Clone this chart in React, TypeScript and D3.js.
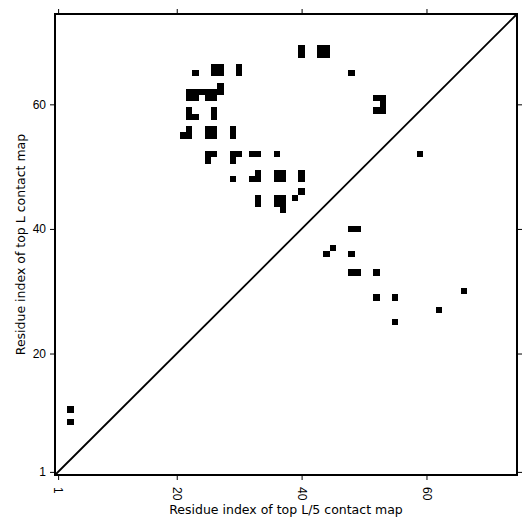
import React, { useRef, useEffect } from 'react';
import * as d3 from 'd3';

// protein length (residues)
const seqLength = 74;

// top L predicted contacts, residue pairs [i, j] with i < j (drawn above the diagonal)
const topLContacts: [number, number][] = [
  [3, 9], [3, 11],
  [23, 65], [26, 65], [26, 66], [27, 65], [27, 66], [30, 65], [30, 66],
  [27, 63], [22, 62], [23, 62], [24, 62], [25, 62], [26, 62], [27, 62],
  [22, 61], [23, 61], [25, 61], [26, 61],
  [22, 59], [22, 58], [23, 58], [26, 59], [26, 58],
  [21, 55], [22, 55], [22, 56], [25, 55], [25, 56], [26, 55], [26, 56], [29, 55], [29, 56],
  [25, 52], [26, 52], [25, 51], [29, 52], [30, 52], [29, 51], [32, 52], [33, 52], [36, 52],
  [29, 48], [32, 48], [33, 48], [33, 49], [36, 48], [36, 49], [37, 48], [37, 49], [40, 48], [40, 49],
  [33, 45], [33, 44], [36, 45], [36, 44], [37, 45], [37, 44], [37, 43], [39, 45], [40, 46],
  [40, 68], [40, 69], [43, 68], [43, 69], [44, 68], [44, 69], [48, 65],
  [52, 61], [53, 61], [53, 60], [52, 59], [53, 59],
];

// top L/5 predicted contacts, residue pairs [i, j] with i < j (drawn below the diagonal)
const topL5Contacts: [number, number][] = [
  [52, 59], [40, 48], [40, 49], [37, 45], [36, 44], [36, 48],
  [33, 48], [33, 49], [33, 52], [29, 52], [29, 55], [30, 66], [27, 62], [25, 55],
];

const tickValues = [1, 20, 40, 60];

const ContactMap = () => {
  const svgRef = useRef<SVGSVGElement>(null);

  useEffect(() => {
    const width = 531;
    const height = 531;
    const margin = { top: 14, right: 14, bottom: 56, left: 55 };

    const svg = d3.select(svgRef.current);
    svg.selectAll("*").remove();
    svg.attr("width", width).attr("height", height)
      .style("font-family", "'DejaVu Sans', sans-serif");

    const x = d3.scaleLinear()
      .domain([0.5, seqLength + 0.5])
      .range([margin.left, width - margin.right]);
    const y = d3.scaleLinear()
      .domain([0.5, seqLength + 0.5])
      .range([height - margin.bottom, margin.top]);

    const cells = [
      ...topLContacts.map(([i, j]) => ({ cx: i, cy: j })),
      ...topL5Contacts.map(([i, j]) => ({ cx: j, cy: i })),
    ];

    svg.append("g")
      .selectAll("rect")
      .data(cells)
      .join("rect")
      .attr("x", d => x(d.cx - 0.5))
      .attr("y", d => y(d.cy + 0.5))
      .attr("width", d => x(d.cx + 0.5) - x(d.cx - 0.5))
      .attr("height", d => y(d.cy - 0.5) - y(d.cy + 0.5))
      .attr("fill", "black")
      .attr("shape-rendering", "crispEdges");

    // diagonal
    svg.append("line")
      .attr("x1", x(0.5)).attr("y1", y(0.5))
      .attr("x2", x(seqLength + 0.5)).attr("y2", y(seqLength + 0.5))
      .attr("stroke", "black")
      .attr("stroke-width", 1.8);

    const styleAxis = (g: any) => {
      g.select(".domain").remove();
      g.selectAll(".tick line").attr("stroke", "black").attr("stroke-width", 1);
      g.selectAll(".tick text").attr("fill", "black").style("font-size", "12px");
    };

    // bottom
    svg.append("g")
      .attr("transform", `translate(0,${height - margin.bottom})`)
      .call(d3.axisBottom(x).tickValues(tickValues).tickSize(5).tickPadding(3).tickFormat(d3.format("d")))
      .call(styleAxis)
      .selectAll(".tick text")
      .attr("transform", "rotate(90)")
      .attr("x", 12)
      .attr("y", 0)
      .attr("dy", "0.35em")
      .attr("text-anchor", "start");

    // top
    svg.append("g")
      .attr("transform", `translate(0,${margin.top})`)
      .call(d3.axisTop(x).tickValues(tickValues).tickSize(5).tickFormat(() => ""))
      .call(styleAxis);

    // left
    svg.append("g")
      .attr("transform", `translate(${margin.left},0)`)
      .call(d3.axisLeft(y).tickValues(tickValues).tickSize(5).tickPadding(4).tickFormat(d3.format("d")))
      .call(styleAxis);

    // right
    svg.append("g")
      .attr("transform", `translate(${width - margin.right},0)`)
      .call(d3.axisRight(y).tickValues(tickValues).tickSize(5).tickFormat(() => ""))
      .call(styleAxis);

    // frame
    svg.append("rect")
      .attr("x", margin.left).attr("y", margin.top)
      .attr("width", width - margin.left - margin.right)
      .attr("height", height - margin.top - margin.bottom)
      .attr("fill", "none")
      .attr("stroke", "black")
      .attr("stroke-width", 2);

    svg.append("text")
      .attr("x", (margin.left + width - margin.right) / 2)
      .attr("y", 514)
      .attr("text-anchor", "middle")
      .style("font-size", "12.5px")
      .text("Residue index of top L/5 contact map");

    svg.append("text")
      .attr("transform", `translate(25,${(margin.top + height - margin.bottom) / 2}) rotate(-90)`)
      .attr("text-anchor", "middle")
      .style("font-size", "12.5px")
      .text("Residue index of top L contact map");
  }, []);

  return <svg ref={svgRef} style={{ position: "absolute", left: 0, top: 0, display: "block" }} />;
};

export default function App() {
  return <ContactMap />;
}
